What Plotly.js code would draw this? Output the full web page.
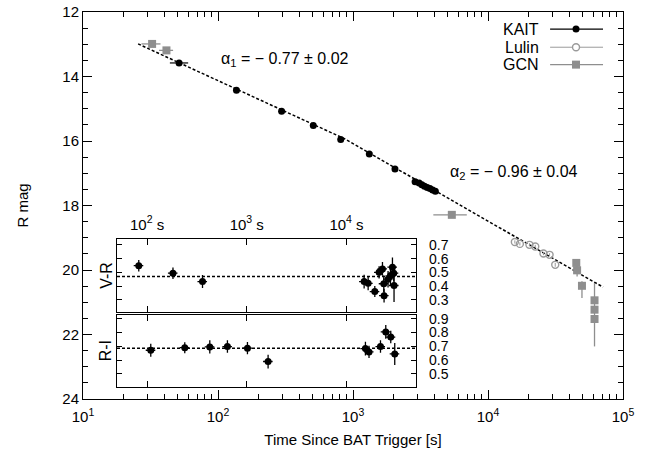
<!DOCTYPE html>
<html>
<head>
<meta charset="utf-8">
<script src="https://cdn.plot.ly/plotly-3.0.1.min.js"></script>
<style>html,body{margin:0;padding:0;background:#fff;}#chart{width:655px;height:459px;}</style>
</head>
<body>
<div id="chart"></div>
<script>
// ---------- Main light curve data (time [s], R mag) ----------
const kaitT      = [51.5, 137, 296, 508, 811, 1321, 2046, 2884, 3090, 3236, 3388, 3548, 3715, 3890, 4074];
const kaitMag    = [13.58, 14.43, 15.08, 15.52, 15.95, 16.40, 16.87, 17.26, 17.30, 17.36, 17.40, 17.44, 17.47, 17.52, 17.56];
const kaitMagErr = [0.04, 0.03, 0.03, 0.03, 0.03, 0.03, 0.04, 0.05, 0.05, 0.05, 0.05, 0.05, 0.05, 0.05, 0.05];
const kaitTErrP  = [8.6, 0, 0, 0, 0, 0, 0, 0, 0, 0, 0, 0, 0, 0, 0];
const kaitTErrM  = [7.5, 0, 0, 0, 0, 0, 0, 0, 0, 0, 0, 0, 0, 0, 0];

const lulinT      = [15810, 17220, 20280, 22390, 25760, 28580, 31480];
const lulinMag    = [19.13, 19.19, 19.22, 19.27, 19.49, 19.53, 19.84];
const lulinMagErr = [0.05, 0.05, 0.05, 0.05, 0.05, 0.05, 0.06];

const gcnT       = [32.5, 41.5, 5395, 45080, 45710, 49660, 61520, 61520, 61520];
const gcnMag     = [12.99, 13.19, 18.29, 19.78, 20.01, 20.49, 20.94, 21.23, 21.52];
const gcnMagErrP = [0.04, 0.04, 0.08, 0.12, 0.19, 0.38, 0, 0, 0.85];
const gcnMagErrM = [0.04, 0.04, 0.08, 0.12, 0.19, 0.14, 0, 0, 1.12];
const gcnTErrP   = [5.0, 5.0, 1571, 0, 0, 0, 0, 0, 0];
const gcnTErrM   = [5.4, 4.9, 1459, 0, 0, 0, 0, 0, 0];

// broken power-law fit (start, break, end)
const fitT   = [25.6, 865, 71100];
const fitMag = [12.99, 15.93, 20.53];

// ---------- Inset colour data ----------
const vrT   = [82.6, 182, 360, 15030, 16490, 19230, 21230, 22960, 23660, 23820, 26120, 27610, 28910, 29790, 29990];
const vrVal = [0.549, 0.494, 0.433, 0.433, 0.420, 0.360, 0.500, 0.525, 0.417, 0.330, 0.450, 0.475, 0.538, 0.494, 0.404];
const vrErr = [0.042, 0.042, 0.048, 0.05, 0.05, 0.04, 0.045, 0.05, 0.06, 0.05, 0.06, 0.07, 0.07, 0.06, 0.12];
const vrMean = 0.47;

const riT   = [109, 239, 426, 640, 1016, 1637, 15490, 16830, 21930, 24780, 27800, 30480];
const riVal = [0.671, 0.690, 0.695, 0.698, 0.686, 0.589, 0.683, 0.659, 0.698, 0.804, 0.767, 0.644];
const riErr = [0.048, 0.04, 0.048, 0.045, 0.045, 0.05, 0.05, 0.045, 0.045, 0.05, 0.045, 0.08];
const riMean = 0.685;

const mainXTicks = [10, 100, 1000, 10000, 100000];
const mainXText  = ['10<sup>1</sup>', '10<sup>2</sup>', '10<sup>3</sup>', '10<sup>4</sup>', '10<sup>5</sup>'];
const insetXTicks = [100, 1000, 10000];
const insetXText  = ['10<sup>2</sup> s', '10<sup>3</sup> s', '10<sup>4</sup> s'];
const vrTicks = [0.3, 0.4, 0.5, 0.6, 0.7];
const riTicks = [0.5, 0.6, 0.7, 0.8, 0.9];

const legendNames = ['KAIT', 'Lulin', 'GCN'];

// ---------- styling ----------
const FONT = 'Liberation Sans, Arial, Helvetica, sans-serif';
const GCN_C = '#8e8e8e', LULIN_C = '#9a9a9a';

const minorX = [];
for (let d = 10; d < 100000; d *= 10) for (let k = 2; k <= 9; k++) minorX.push(d * k);

const traces = [];
traces.push({x: fitT, y: fitMag, mode: 'lines', xaxis: 'x', yaxis: 'y',
  line: {color: '#000', width: 1.5, dash: '3px,2px'}, hoverinfo: 'skip'});
traces.push({x: kaitT, y: kaitMag, mode: 'markers', xaxis: 'x', yaxis: 'y',
  marker: {color: '#000', size: 7, symbol: 'circle'},
  error_y: {type: 'data', array: kaitMagErr, color: '#000', thickness: 1.2, width: 0},
  error_x: {type: 'data', array: kaitTErrP, arrayminus: kaitTErrM, color: '#000', thickness: 1.2, width: 0}});
traces.push({x: lulinT, y: lulinMag, mode: 'markers', xaxis: 'x', yaxis: 'y',
  marker: {color: LULIN_C, size: 7, symbol: 'circle-open', line: {color: LULIN_C, width: 1.4}},
  error_y: {type: 'data', array: lulinMagErr, color: LULIN_C, thickness: 1, width: 0}});
traces.push({x: gcnT, y: gcnMag, mode: 'markers', xaxis: 'x', yaxis: 'y',
  marker: {color: GCN_C, size: 8, symbol: 'square'},
  error_y: {type: 'data', array: gcnMagErrP, arrayminus: gcnMagErrM, color: GCN_C, thickness: 1.3, width: 0},
  error_x: {type: 'data', array: gcnTErrP, arrayminus: gcnTErrM, color: GCN_C, thickness: 1.3, width: 0}});

// inset traces
traces.push({x: vrT, y: vrVal, mode: 'markers', xaxis: 'x2', yaxis: 'y2',
  marker: {color: '#000', size: 7},
  error_y: {type: 'data', array: vrErr, color: '#000', thickness: 1.3, width: 0},
  error_x: {type: 'percent', value: 11, color: '#000', thickness: 1.3, width: 0}});
traces.push({x: riT, y: riVal, mode: 'markers', xaxis: 'x3', yaxis: 'y3',
  marker: {color: '#000', size: 7},
  error_y: {type: 'data', array: riErr, color: '#000', thickness: 1.3, width: 0},
  error_x: {type: 'percent', value: 11, color: '#000', thickness: 1.3, width: 0}});

// legend (gnuplot style: label, then sample line with marker)
const legY = [0.956, 0.909, 0.864];
const legLineX = [0.865, 0.963], legMarkX = 0.913;
const legStyles = [
  {lc: '#000', lw: 1.3, m: {color: '#000', size: 7, symbol: 'circle'}},
  {lc: LULIN_C, lw: 1, m: {color: '#fff', size: 7, symbol: 'circle', line: {color: LULIN_C, width: 1.4}}},
  {lc: GCN_C, lw: 1.3, m: {color: GCN_C, size: 8, symbol: 'square'}}
];
const annotations = [];
legendNames.forEach((n, i) => {
  traces.push({x: legLineX, y: [legY[i], legY[i]], mode: 'lines', xaxis: 'x5', yaxis: 'y5',
    line: {color: legStyles[i].lc, width: legStyles[i].lw}, hoverinfo: 'skip'});
  traces.push({x: [legMarkX], y: [legY[i]], mode: 'markers', xaxis: 'x5', yaxis: 'y5',
    marker: legStyles[i].m, hoverinfo: 'skip'});
  annotations.push({xref: 'paper', yref: 'paper', x: 0.848, y: legY[i], xanchor: 'right', yanchor: 'middle',
    text: n, showarrow: false, font: {family: FONT, size: 16, color: '#000'}});
});

annotations.push({xref: 'paper', yref: 'paper', x: 0.2516, y: 0.8767, xanchor: 'left', yanchor: 'middle',
  text: 'α<sub>1</sub> = − 0.77 ± 0.02', showarrow: false, font: {family: FONT, size: 16, color: '#000'}});
annotations.push({xref: 'paper', yref: 'paper', x: 0.676, y: 0.5848, xanchor: 'left', yanchor: 'middle',
  text: 'α<sub>2</sub> = − 0.96 ± 0.04', showarrow: false, font: {family: FONT, size: 16, color: '#000'}});
annotations.push({xref: 'paper', yref: 'paper', x: 0.042, y: 0.32, xanchor: 'center', yanchor: 'middle',
  text: 'V-R', textangle: -90, showarrow: false, font: {family: FONT, size: 16, color: '#000'}});
annotations.push({xref: 'paper', yref: 'paper', x: 0.042, y: 0.125, xanchor: 'center', yanchor: 'middle',
  text: 'R-I', textangle: -90, showarrow: false, font: {family: FONT, size: 16, color: '#000'}});

const shapes = [
  {type: 'line', xref: 'x2 domain', yref: 'y2', x0: 0, x1: 1, y0: vrMean, y1: vrMean,
   line: {color: '#000', width: 1.5, dash: '3px,2px'}},
  {type: 'line', xref: 'x3 domain', yref: 'y3', x0: 0, x1: 1, y0: riMean, y1: riMean,
   line: {color: '#000', width: 1.5, dash: '3px,2px'}}
];

const axBase = {showgrid: false, zeroline: false, showline: true, linecolor: '#000', linewidth: 1,
  ticks: 'inside', tickcolor: '#000', mirror: 'ticks', tickfont: {family: FONT, size: 15, color: '#000'}};

const insetDomX = [0.063, 0.617];
const insetRange = [Math.log10(50), Math.log10(50000)];
const insetYFont = {family: FONT, size: 14, color: '#000'};

const layout = {
  width: 655, height: 459,
  margin: {l: 83, r: 32, t: 12, b: 60},
  paper_bgcolor: '#fff', plot_bgcolor: 'rgba(0,0,0,0)',
  showlegend: false,
  font: {family: FONT, color: '#000'},
  xaxis: Object.assign({}, axBase, {type: 'log', range: [1, 5], tickmode: 'array', tickvals: mainXTicks, ticktext: mainXText,
    ticklen: 9, ticklabelstandoff: 4,
    minor: {tickmode: 'array', tickvals: minorX, ticks: 'inside', ticklen: 5, tickcolor: '#000', showgrid: false},
    title: {text: 'Time Since BAT Trigger [s]', font: {family: FONT, size: 15, color: '#000'}, standoff: 10}}),
  yaxis: Object.assign({}, axBase, {range: [24, 12], tickmode: 'linear', tick0: 12, dtick: 2, ticklen: 9,
    minor: {dtick: 0.5, ticks: 'inside', ticklen: 5, tickcolor: '#000', showgrid: false},
    title: {text: 'R mag', font: {family: FONT, size: 15, color: '#000'}, standoff: 30}}),
  xaxis2: Object.assign({}, axBase, {type: 'log', domain: insetDomX, range: insetRange, anchor: 'y2', side: 'top',
    tickmode: 'array', tickvals: insetXTicks, ticktext: insetXText, ticklen: 6, ticklabelstandoff: 2}),
  yaxis2: Object.assign({}, axBase, {domain: [0.2256, 0.414], range: [0.213, 0.745], anchor: 'x2', side: 'right',
    tickmode: 'array', tickvals: vrTicks, ticktext: vrTicks.map(v => v.toFixed(1)), ticklen: 5, ticklabelstandoff: 9,
    tickfont: insetYFont}),
  xaxis3: Object.assign({}, axBase, {type: 'log', domain: insetDomX, range: insetRange, anchor: 'y3',
    tickmode: 'array', tickvals: insetXTicks, showticklabels: false, ticklen: 6}),
  yaxis3: Object.assign({}, axBase, {domain: [0.0318, 0.218], range: [0.406, 0.93], anchor: 'x3', side: 'right',
    tickmode: 'array', tickvals: riTicks, ticktext: riTicks.map(v => v.toFixed(1)), ticklen: 5, ticklabelstandoff: 9,
    tickfont: insetYFont}),
  xaxis5: {overlaying: 'x', range: [0, 1], visible: false, fixedrange: true},
  yaxis5: {overlaying: 'y', range: [0, 1], visible: false, fixedrange: true},
  annotations: annotations,
  shapes: shapes
};

Plotly.newPlot('chart', traces, layout, {staticPlot: true, displayModeBar: false});
</script>
</body>
</html>
